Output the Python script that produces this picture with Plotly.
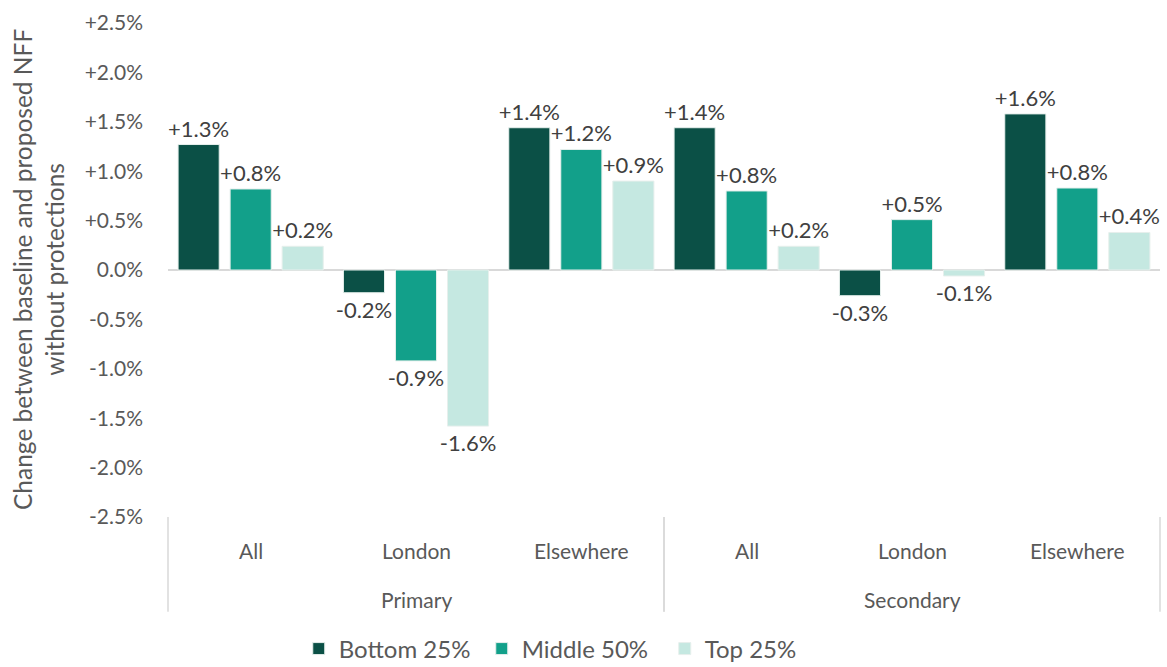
import plotly.graph_objects as go

phase = ["Primary", "Primary", "Primary", "Secondary", "Secondary", "Secondary"]
region = ["All", "London", "Elsewhere", "All", "London", "Elsewhere"]

bottom_25 = [1.27, -0.23, 1.44, 1.44, -0.26, 1.58]
middle_50 = [0.82, -0.92, 1.22, 0.80, 0.51, 0.83]
top_25 = [0.24, -1.58, 0.90, 0.24, -0.06, 0.38]

series = [
    ("Bottom 25%", bottom_25, "#0B5046"),
    ("Middle 50%", middle_50, "#12A08A"),
    ("Top 25%", top_25, "#C5E8E1"),
]

y_ticks = [-2.5, -2.0, -1.5, -1.0, -0.5, 0.0, 0.5, 1.0, 1.5, 2.0, 2.5]
y_tick_text = [("0.0%" if v == 0 else f"{v:+.1f}%") for v in y_ticks]
y_title = "Change between baseline and proposed NFF<br>without protections"

FONT = "Lato, 'Open Sans', sans-serif"
TICK_GREY = "#595959"

cats = [f"{p}|{r}" for p, r in zip(phase, region)]

fig = go.Figure()
for name, vals, color in series:
    fig.add_trace(go.Bar(
        name=name,
        x=cats,
        y=vals,
        marker=dict(color=color, line=dict(color="#E6EFEC", width=1)),
        text=[f"{v:+.1f}%" for v in vals],
        textposition="outside",
        constraintext="none",
        textfont=dict(size=22, color="#404040", family=FONT),
        cliponaxis=False,
    ))

# category labels (level 1: region, level 2: phase)
annotations = []
for c, r in zip(cats, region):
    annotations.append(dict(
        x=c, xref="x", y=-0.067, yref="paper", text=r, showarrow=False,
        xanchor="center", yanchor="middle",
        font=dict(size=21, color=TICK_GREY, family=FONT),
    ))
groups = []
for p in phase:
    if p not in groups:
        groups.append(p)
n = len(cats)
shapes = []
for g in groups:
    idx = [i for i, p in enumerate(phase) if p == g]
    x0 = min(idx) / n
    x1 = (max(idx) + 1) / n
    annotations.append(dict(
        x=(x0 + x1) / 2, xref="x domain", y=-0.168, yref="paper", text=g,
        showarrow=False, xanchor="center", yanchor="middle",
        font=dict(size=21, color=TICK_GREY, family=FONT),
    ))
    for xb in (x0, x1):
        shapes.append(dict(
            type="line", xref="x domain", yref="paper",
            x0=xb, x1=xb, y0=0, y1=-0.192,
            line=dict(color="#D9D9D9", width=1.5),
        ))

annotations.append(dict(
    x=-0.131, xref="paper", y=0.5, yref="paper", text=y_title,
    textangle=-90, showarrow=False, xanchor="center", yanchor="middle",
    font=dict(size=24.5, color=TICK_GREY, family=FONT),
))

fig.update_layout(
    barmode="group",
    bargap=0.056,
    bargroupgap=0.21,
    width=1167,
    height=667,
    paper_bgcolor="white",
    plot_bgcolor="white",
    margin=dict(l=168, r=7, t=23, b=150),
    font=dict(family=FONT, color=TICK_GREY),
    legend=dict(
        orientation="h",
        xref="container", yref="container",
        x=0.256, xanchor="left",
        y=0.027, yanchor="middle",
        font=dict(size=24, color=TICK_GREY, family=FONT),
        traceorder="normal",
        entrywidth=138,
    ),
    showlegend=True,
    annotations=annotations,
    shapes=shapes,
)

fig.update_yaxes(
    range=[-2.5, 2.5],
    tickvals=y_ticks,
    ticktext=y_tick_text,
    tickfont=dict(size=21, color=TICK_GREY, family=FONT),
    ticklabelstandoff=24,
    showgrid=False,
    zeroline=True,
    zerolinecolor="#D9D9D9",
    zerolinewidth=1.5,
    showline=False,
    ticks="",
    automargin=False,
)

fig.update_xaxes(
    type="category",
    showticklabels=False,
    showgrid=False,
    showline=False,
    ticks="",
    automargin=False,
)

fig.write_html(
    "out.html",
    config={"displayModeBar": False},
    post_script="document.body.style.margin='0px';document.body.style.overflow='hidden';",
)
